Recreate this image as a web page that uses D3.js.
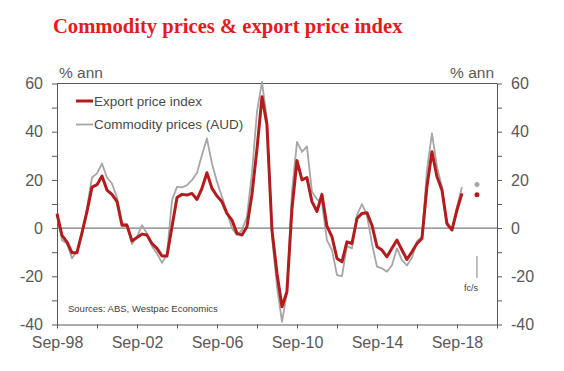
<!DOCTYPE html>
<html>
<head>
<meta charset="utf-8">
<script src="https://cdn.jsdelivr.net/npm/d3@7"></script>
<style>
  body { margin: 0; background: #fff; }
  svg { display: block; }
</style>
</head>
<body>
<div id="chart"></div>
<script>
// Quarterly data, Sep-98 to Dec-18 (% ann)
const startDate = new Date(1998, 8, 1);
const exportPrices = [6, -3, -5.7, -10.2, -10.2, -2, 6.8, 17, 18, 21.6,
  15.8, 14, 11, 1.2, 1.2, -5.3, -3.9, -2.5, -2.9, -6.4,
  -8.4, -11.6, -11.6, 0.6, 12.7, 14, 13.7, 14.4, 11.9, 16.5,
  23, 16.5, 13.3, 10.9, 6.1, 3.3, -2.2, -2.9, 0.6, 14,
  33, 54.5, 43, -0.8, -18.8, -32.6, -26.4, 8, 28, 20,
  21, 11, 6.9, 14, 0.8, -3.6, -12.6, -14, -5.7, -6.4,
  4, 6.1, 6.4, 1.2, -7.7, -9.1, -11.9, -8.4, -5, -9.1,
  -13, -9.8, -6.4, -4.3, 17.1, 31.7, 21.3, 15.8, 2, -0.8,
  7.5, 14.4];
const commodityPrices = [5.4, -5, -6.4, -12.5, -9.8, -3, 8.2, 21, 22.7, 26.8,
  21, 18.5, 12.7, 2, 1.7, -6.6, -3.6, 1.2, -2.2, -7.5,
  -10.5, -14.4, -11.2, 11.6, 17.1, 16.9, 17.8, 19.9, 23, 30.3,
  37.2, 26.8, 19.2, 13, 6.8, -0.1, -2.9, -0.8, 4.7, 23,
  48.4, 60.7, 45, -3.6, -24.3, -38.9, -27, 15, 35.8, 31.6,
  33.9, 15.2, 12, 10.5, -5, -9.1, -19.5, -19.9, -7.5, -8.4,
  5.4, 10, 5.4, -6.4, -16, -16.7, -18.1, -15.4, -8.4, -13.3,
  -15.5, -12.3, -5.4, -3.6, 24, 39.3, 25.4, 17.1, 1.2, -0.5,
  8.8, 17.1];

// forecast point (Sep-19)
const forecastDate = new Date(2019, 8, 1);
const forecastExport = 13.8;
const forecastCommodity = 18.1;

const yTicks = [-40, -30, -20, -10, 0, 10, 20, 30, 40, 50, 60];
const yLabels = [-40, -20, 0, 20, 40, 60];
const xLabelYears = [1998, 2002, 2006, 2010, 2014, 2018];

const seriesNames = ["Export price index", "Commodity prices (AUD)"];
const colors = ["#b41b1d", "#a6a6a6"];

const width = 564, height = 371;
const axisColor = "#595959";

const svg = d3.select("#chart")
  .append("svg")
    .attr("width", width)
    .attr("height", height);

// scales
const x = d3.scaleTime()
  .domain([startDate, new Date(2020, 8, 1)])
  .range([57, 497]);
const y = d3.scaleLinear()
  .domain([-40, 60])
  .range([324.5, 83.5]);

const dates = exportPrices.map((d, i) => d3.timeMonth.offset(startDate, 3 * i));

// title
svg.append("text")
  .attr("x", 53)
  .attr("y", 33)
  .attr("font-family", "Liberation Serif, Times New Roman, serif")
  .attr("font-weight", "bold")
  .attr("font-size", 20.6)
  .attr("fill", "#e41a1c")
  .text("Commodity prices & export price index");

// top border
svg.append("line")
  .attr("x1", x.range()[0]).attr("x2", x.range()[1])
  .attr("y1", y(60)).attr("y2", y(60))
  .attr("stroke", axisColor);

// zero line
svg.append("line")
  .attr("x1", x.range()[0]).attr("x2", x.range()[1])
  .attr("y1", y(0)).attr("y2", y(0))
  .attr("stroke", axisColor);

// x axis
const xTicks = d3.range(0, 12).map(k => d3.timeYear.offset(startDate, 2 * k));
const xAxis = svg.append("g")
  .attr("transform", `translate(0,${y(-40)})`)
  .call(d3.axisBottom(x)
    .tickValues(xTicks)
    .tickSize(4)
    .tickSizeOuter(0)
    .tickFormat(d => xLabelYears.includes(d.getFullYear()) ? d3.timeFormat("%b-%y")(d) : ""));

// y axes
const leftAxis = svg.append("g")
  .attr("transform", `translate(${x.range()[0]},0)`)
  .call(d3.axisLeft(y)
    .tickValues(yTicks)
    .tickSize(5)
    .tickSizeOuter(0)
    .tickFormat(d => yLabels.includes(d) ? d : ""));
const rightAxis = svg.append("g")
  .attr("transform", `translate(${x.range()[1]},0)`)
  .call(d3.axisRight(y)
    .tickValues(yTicks)
    .tickSize(5)
    .tickSizeOuter(0)
    .tickFormat(d => yLabels.includes(d) ? d : ""));

[xAxis, leftAxis, rightAxis].forEach(g => {
  g.select(".domain").attr("stroke", axisColor);
  g.selectAll(".tick line").attr("stroke", axisColor);
  g.selectAll(".tick text")
    .attr("fill", axisColor)
    .attr("font-family", "Liberation Sans, Arial, sans-serif")
    .attr("font-size", 16);
});
xAxis.selectAll(".tick text").attr("dy", "1.05em");
leftAxis.selectAll(".tick text").attr("x", -14);
rightAxis.selectAll(".tick text").attr("x", 14);

// unit labels
svg.append("text")
  .attr("x", 59).attr("y", 78)
  .attr("font-family", "Liberation Sans, Arial, sans-serif")
  .attr("font-size", 15.5)
  .attr("fill", axisColor)
  .text("% ann");
svg.append("text")
  .attr("x", 494).attr("y", 78)
  .attr("text-anchor", "end")
  .attr("font-family", "Liberation Sans, Arial, sans-serif")
  .attr("font-size", 15.5)
  .attr("fill", axisColor)
  .text("% ann");

// lines
const line = d3.line()
  .x((d, i) => x(dates[i]))
  .y(d => y(d));

svg.append("path")
  .datum(commodityPrices)
  .attr("fill", "none")
  .attr("stroke", colors[1])
  .attr("stroke-width", 1.8)
  .attr("stroke-linejoin", "round")
  .attr("d", line);

svg.append("path")
  .datum(exportPrices)
  .attr("fill", "none")
  .attr("stroke", colors[0])
  .attr("stroke-width", 3)
  .attr("stroke-linejoin", "round")
  .attr("d", line);

// forecast dots
svg.append("circle")
  .attr("cx", x(forecastDate)).attr("cy", y(forecastCommodity))
  .attr("r", 2.5).attr("fill", colors[1]);
svg.append("circle")
  .attr("cx", x(forecastDate)).attr("cy", y(forecastExport))
  .attr("r", 2.5).attr("fill", colors[0]);

// fc/s marker
svg.append("line")
  .attr("x1", x(forecastDate)).attr("x2", x(forecastDate))
  .attr("y1", 256).attr("y2", 278)
  .attr("stroke", "#7f7f7f");
svg.append("text")
  .attr("x", 471).attr("y", 291)
  .attr("text-anchor", "middle")
  .attr("font-family", "Liberation Sans, Arial, sans-serif")
  .attr("font-size", 9)
  .attr("fill", "#404040")
  .text("fc/s");

// legend
const legend = svg.append("g");
seriesNames.forEach((name, i) => {
  const ly = 101 + i * 23.5;
  legend.append("line")
    .attr("x1", 76).attr("x2", 93)
    .attr("y1", ly).attr("y2", ly)
    .attr("stroke", colors[i])
    .attr("stroke-width", i === 0 ? 3 : 1.8);
  legend.append("text")
    .attr("x", 94).attr("y", ly + 4.5)
    .attr("font-family", "Liberation Sans, Arial, sans-serif")
    .attr("font-size", 13.5)
    .attr("fill", "#4a4a4a")
    .text(name);
});

// source
svg.append("text")
  .attr("x", 68).attr("y", 312)
  .attr("font-family", "Liberation Sans, Arial, sans-serif")
  .attr("font-size", 9.5)
  .attr("fill", "#404040")
  .text("Sources: ABS, Westpac Economics");
</script>
</body>
</html>
